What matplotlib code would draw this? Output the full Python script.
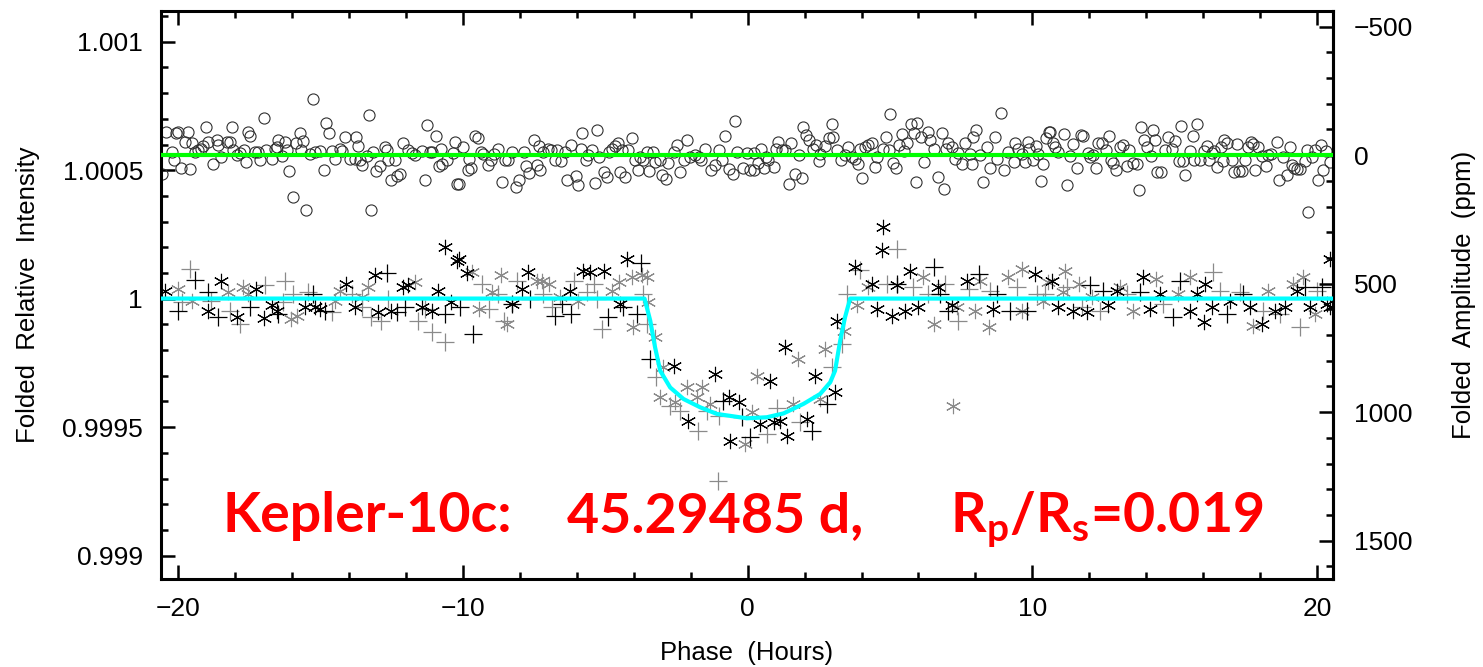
import matplotlib
matplotlib.use("Agg")
import matplotlib.pyplot as plt
import numpy as np
from matplotlib.ticker import MultipleLocator, FixedLocator

plt.rcParams['font.family'] = ['Liberation Sans', 'DejaVu Sans']
plt.rcParams['mathtext.fontset'] = 'custom'
plt.rcParams['mathtext.rm'] = 'Lato:bold'
plt.rcParams['mathtext.bf'] = 'Lato:bold'

# ---------------- data ----------------
# zero of the right-hand amplitude axis, in folded relative intensity
amp_zero = 1.0005585

# upper band: open circles (phase in hours, amplitude in ppm)
circ_phase = [
 -20.56,-20.41,-20.23,-20.14,-20.06,-20.00,-19.90,-19.76,-19.65,-19.59,-19.53,-19.41,-19.30,-19.20,-19.12,-19.03,-18.94,-18.77,-18.65,-18.59,
 -18.48,-18.30,-18.18,-18.12,-18.07,-17.95,-17.83,-17.68,-17.63,-17.56,-17.48,-17.31,-17.19,-17.13,-16.98,-16.90,-16.72,-16.60,-16.54,-16.49,
 -16.37,-16.23,-16.19,-16.10,-15.98,-15.87,-15.73,-15.67,-15.61,-15.51,-15.37,-15.26,-15.20,-15.02,-14.88,-14.79,-14.71,-14.61,-14.50,-14.32,
 -14.26,-14.14,-13.97,-13.79,-13.76,-13.70,-13.62,-13.54,-13.38,-13.29,-13.23,-13.15,-13.06,-12.92,-12.74,-12.68,-12.62,-12.54,-12.39,-12.33,
 -12.21,-12.10,-11.94,-11.80,-11.69,-11.45,-11.34,-11.27,-11.16,-11.08,-10.96,-10.84,-10.77,-10.73,-10.57,-10.34,-10.28,-10.19,
 -10.13,-9.98,-9.83,-9.78,-9.71,-9.59,-9.47,-9.36,-9.28,-9.12,-9.01,-8.89,-8.75,-8.63,-8.51,-8.40,-8.26,-8.14,-8.02,-7.87,
 -7.79,-7.67,-7.52,-7.40,-7.32,-7.29,-7.17,-7.02,-6.90,-6.78,-6.70,-6.55,-6.41,-6.35,-6.20,-6.03,-5.94,-5.85,-5.80,-5.68,
 -5.59,-5.45,-5.35,-5.30,-5.21,-5.06,-4.94,-4.86,-4.77,-4.67,-4.57,-4.48,-4.42,-4.32,-4.21,-4.07,-3.95,-3.86,-3.77,-3.69,
 -3.54,-3.46,-3.34,-3.25,-3.09,-2.99,-2.87,-2.78,-2.60,-2.49,-2.36,-2.25,-2.12,-2.02,-1.84,-1.72,-1.63,-1.49,-1.28,-1.14,
 -1.00,-0.91,-0.81,-0.65,-0.53,-0.46,-0.38,-0.18,-0.03,0.09,0.21,
 0.21,0.35,0.46,0.58,0.65,0.73,0.93,1.00,1.07,1.20,1.32,1.47,1.52,1.67,1.82,1.90,1.96,2.05,2.17,2.29,
 2.41,2.49,2.55,2.72,2.87,2.96,3.01,3.13,3.27,3.42,3.51,3.66,3.78,3.89,4.01,3.93,4.13,4.24,4.36,4.48,
 4.54,4.75,4.86,4.95,5.00,5.10,5.22,5.33,5.41,5.50,5.61,5.73,5.85,5.91,5.96,6.08,6.20,6.35,6.41,6.55,
 6.70,6.82,6.88,6.97,7.05,7.17,7.29,7.40,7.52,7.64,7.81,7.87,7.91,8.02,8.16,8.28,8.42,8.52,8.67,8.77,
 8.90,9.01,9.16,9.34,9.39,9.51,9.63,9.75,9.83,9.89,10.01,10.13,10.21,10.31,10.39,10.48,10.59,
 10.62,10.74,10.80,10.91,11.11,11.23,11.32,11.44,11.58,11.70,11.79,11.97,12.03,12.12,12.24,12.32,12.44,12.59,12.70,12.75,
 12.82,12.94,13.06,13.20,13.31,13.41,13.55,13.69,13.73,13.81,13.92,14.04,14.16,14.25,14.31,14.39,14.51,14.66,14.78,14.89,
 15.01,15.16,15.21,15.30,15.37,15.54,15.63,15.68,15.77,15.87,16.01,16.15,16.22,16.30,16.38,16.50,16.61,16.68,16.73,16.83,
 17.00,17.09,17.18,17.27,17.35,17.47,17.59,17.67,17.74,17.82,17.94,18.05,18.21,18.29,18.38,18.58,18.67,18.79,18.93,19.05,
 19.11,19.19,19.28,19.40,19.58,19.63,19.67,19.81,19.93,20.04,20.13,20.20,20.31,20.45]
circ_ppm = [
 72,-91,-13,20,-85,-91,48,-52,-91,52,-46,-13,-20,-26,-35,-108,-52,36,-59,-39,
 9,-52,-52,-108,-20,0,-7,-20,26,-91,-74,-13,-13,17,-143,-20,13,-26,-33,-61,
 4,-52,-20,62,163,-46,-85,-20,-56,215,-4,-218,-13,-17,59,-124,-85,-17,13,-26,
 -17,-72,13,13,-72,-35,17,39,4,-156,215,-13,61,43,-33,-20,20,98,20,82,
 74,-46,-20,-7,0,-17,95,-117,-13,-13,-74,43,-26,33,20,-7,-52,113,
 113,-33,56,13,48,-74,-65,-13,-4,39,20,-4,-26,104,17,20,-13,124,95,-13,
 43,69,-61,39,-35,56,-13,-26,-20,20,-20,22,-13,95,-39,82,117,-26,-88,17,
 0,-22,108,-98,9,65,85,-13,-26,-35,-46,65,-20,85,-20,-65,20,56,9,17,
 -13,61,-13,26,20,78,91,30,-13,-39,65,20,-59,7,0,7,20,-26,59,39,
 -20,20,-74,52,74,-134,-13,48,-7,59,-7,
 56,30,-26,48,7,17,46,-26,-52,-20,-22,113,-46,72,0,87,-108,-78,-61,-26,
 -39,22,-4,-35,-65,-121,-69,-20,17,0,-33,7,13,33,87,-26,-33,-39,-46,46,
 9,-26,-72,-22,-160,30,48,-39,-82,-17,-48,-121,-87,104,-124,-72,26,-91,-61,-26,
 85,-87,130,-26,-48,-33,13,-7,33,-48,-4,33,-72,-98,0,104,-30,48,-69,13,
 -165,59,-13,26,-48,-26,-4,26,-52,-26,20,-35,-4,100,33,-65,-91,
 -91,-46,-33,-13,-82,117,4,-43,48,-78,-74,-9,7,0,48,-46,-46,-20,-74,20,
 30,56,-33,-39,43,-22,30,35,137,-111,-59,-33,4,-98,-59,65,65,-20,-72,-26,
 -56,22,-113,22,78,-17,-74,17,-121,17,-17,-35,17,-9,-17,46,-33,22,-61,-48,
 20,65,-43,61,61,17,-33,-52,-43,56,-33,4,43,0,-4,-52,95,7,78,-33,
 39,48,52,52,22,-20,221,9,-20,98,-39,56,-17,26]

# lower band: folded transit data, two marker types in black and grey (phase h, amplitude ppm)
star_black_phase = [
 -20.47,-18.94,-18.48,-17.95,-17.25,-16.98,-16.72,-16.54,-15.55,-15.20,-15.02,-14.09,-13.79,-13.09,-12.97,-12.51,-12.10,-11.92,-11.45,-11.10,
 -10.87,-10.63,-10.40,-10.22,-10.15,-9.86,-8.28,-7.93,-7.72,-6.23,-5.77,-5.53,-5.03,-4.48,-4.24,
 -2.60,-2.08,-1.14,-0.67,-0.62,-0.32,0.44,0.79,0.91,1.14,1.37,1.32,2.08,2.37,3.07,3.13,3.77,4.71,
 4.36,4.54,4.77,5.06,5.24,5.53,5.71,6.00,6.70,7.17,7.70,8.63,10.10,
 10.68,10.91,11.44,11.91,12.67,12.96,13.90,14.13,14.48,15.54,15.77,16.01,16.06,16.30,16.94,17.64,18.05,18.52,18.87,19.28,
 19.75,20.34,20.45,20.45]
star_black_ppm = [
 527,605,488,631,520,633,585,605,592,592,598,501,592,468,611,605,514,507,592,605,
 527,358,572,410,403,459,579,520,455,527,449,455,451,579,403,
 819,1033,852,943,1111,962,1046,878,1040,1033,1092,748,1027,858,923,644,435,370,
 501,598,280,624,507,605,449,592,514,585,488,598,462,
 488,592,605,611,585,527,475,598,540,605,540,650,501,592,566,592,657,605,592,527,
 592,579,403,592]

star_grey_phase = [
 -20.00,-19.53,-18.24,-17.72,-17.54,-16.02,-15.84,-14.50,-14.32,-13.56,-13.33,-11.69,
 -9.68,-9.45,-8.98,-8.65,-8.46,-7.40,-7.23,-6.99,-6.58,-5.94,-4.77,-4.53,-4.07,-4.01,-3.71,-3.54,-3.50,-3.25,
 -2.96,-3.07,-2.55,-2.14,-1.79,-1.61,-1.32,-0.09,0.15,0.32,1.61,1.78,2.54,2.72,3.37,7.22,
 3.83,4.24,6.17,6.53,7.35,7.99,8.16,8.46,9.16,9.63,9.63,10.39,10.56,
 11.15,11.09,11.62,12.08,13.08,13.55,14.34,15.13,15.54,17.76,18.29,19.16,19.52,19.93]
star_grey_ppm = [
 520,566,533,514,540,637,624,566,527,553,514,494,
 455,598,533,468,657,488,488,501,553,566,527,494,475,670,468,475,572,709,
 826,943,962,904,943,904,969,1124,1001,858,969,793,949,754,683,975,
 585,514,475,657,592,605,488,670,475,442,605,566,494,
 449,533,501,553,514,605,481,540,475,663,527,501,475,618]

plus_black_phase = [
 -19.41,-20.00,-18.94,-18.59,-17.48,-16.49,-15.26,-14.85,-12.68,-12.33,-12.04,-10.63,
 -10.09,-9.63,-8.28,-7.64,-6.76,-6.52,-6.20,-4.89,-4.36,-3.89,-3.74,
 -3.42,-0.85,-0.20,0.09,2.25,2.78,
 5.24,6.53,6.74,7.05,8.11,8.75,9.22,9.80,
 12.03,12.49,13.78,14.95,15.19,16.83,17.41,19.58,20.16]
plus_black_ppm = [
 485,605,533,631,592,618,540,605,459,611,592,618,
 592,696,579,559,624,579,618,631,592,618,420,
 793,956,1020,1098,1072,969,
 501,436,540,605,462,540,605,605,
 507,527,533,631,488,618,540,514,514]

plus_grey_phase = [
 -19.59,-19.88,-18.83,-18.18,-17.83,-16.95,-16.25,-16.31,-15.96,-15.43,-14.61,-13.91,-13.56,-13.21,-12.86,-12.62,-11.57,-11.34,-11.10,-10.63,
 -9.33,-9.10,-8.75,-8.57,-8.10,-7.20,-6.88,-6.11,-5.65,-5.41,-5.30,-5.12,-3.66,-3.54,
 -3.21,-2.72,-2.37,-1.73,-1.44,-1.02,0.67,1.02,1.84,2.96,3.31,3.48,3.95,5.24,-1.04,
 4.89,5.82,6.35,6.94,7.40,7.76,8.52,9.45,10.15,
 10.45,11.21,11.73,12.38,13.31,14.60,16.36,16.59,17.29,18.11,18.70,19.40,19.99]
plus_grey_ppm = [
 442,572,566,605,657,507,488,572,540,533,611,540,592,631,644,559,644,598,689,728,
 501,598,540,644,488,540,592,488,533,501,559,676,540,657,
 865,975,995,1072,995,1014,1085,982,1040,826,735,540,448,364,1268,
 501,514,540,501,644,520,527,514,540,
 540,514,592,605,540,579,455,527,533,605,618,670,527]

# transit model (cyan) and flat reference level (green), amplitude in ppm
model_phase = [-20.6,-3.62,-3.42,-3.25,-3.07,-2.72,-2.25,-1.67,-1.08,-0.03,0.67,1.26,1.96,2.55,2.90,3.07,3.25,3.42,3.60,20.6]
model_ppm = [558,558,644,748,839,904,949,981,1007,1024,1020,1005,968,929,884,839,722,631,558,558]
ref_phase = [-20.6, 20.6]
ref_ppm = [0, 0]

x_ticks = [-20, -10, 0, 10, 20]
x_ticklabels = ['\u221220', '\u221210', '0', '10', '20']
y_ticks = [0.999, 0.9995, 1.0, 1.0005, 1.001]
y_ticklabels = ['0.999', '0.9995', '1', '1.0005', '1.001']
ppm_ticks = [-500, 0, 500, 1000, 1500]
ppm_ticklabels = ['\u2212500', '0', '500', '1000', '1500']

x_range = (-20.6, 20.56)
y_range = (0.998909, 1.0011196)

def to_flux(ppm):
    return amp_zero - np.asarray(ppm, dtype=float) * 1e-6

def flux_to_ppm(v):
    return (amp_zero - np.asarray(v, dtype=float)) * 1e6

# ---------------- figure ----------------
fig = plt.figure(figsize=(14.83, 6.67), dpi=100)
ax = fig.add_axes([0.1086, 0.1319, 0.7903, 0.8516])

grey = '#8a8a8a'
ax.plot(circ_phase, to_flux(circ_ppm), linestyle='none', marker='o', markersize=8,
        markerfacecolor='none', markeredgecolor='#303030', markeredgewidth=0.8, zorder=2)
ax.plot(plus_grey_phase, to_flux(plus_grey_ppm), linestyle='none', marker='+', markersize=13,
        markeredgecolor=grey, markeredgewidth=0.9, zorder=2)
ax.plot(star_grey_phase, to_flux(star_grey_ppm), linestyle='none', marker=(6, 2, 0), markersize=11,
        markeredgecolor=grey, markeredgewidth=0.8, zorder=2)
ax.plot(plus_black_phase, to_flux(plus_black_ppm), linestyle='none', marker='+', markersize=13,
        markeredgecolor='black', markeredgewidth=0.9, zorder=3)
ax.plot(star_black_phase, to_flux(star_black_ppm), linestyle='none', marker=(6, 2, 0), markersize=11,
        markeredgecolor='black', markeredgewidth=0.8, zorder=3)

ax.plot(ref_phase, to_flux(ref_ppm), color='#00ff00', linewidth=3, zorder=4)
ax.plot(model_phase, to_flux(model_ppm), color='#00ffff', linewidth=3, zorder=4)

ax.set_xlim(*x_range)
ax.set_ylim(*y_range)

for s in ax.spines.values():
    s.set_linewidth(2.2)

ax.xaxis.set_major_locator(FixedLocator(x_ticks))
ax.xaxis.set_minor_locator(MultipleLocator(2))
ax.set_xticklabels(x_ticklabels)
ax.yaxis.set_major_locator(FixedLocator(y_ticks))
ax.yaxis.set_minor_locator(MultipleLocator(0.0001))
ax.set_yticklabels(y_ticklabels)
ax.tick_params(axis='both', which='major', direction='in', length=10, width=1.8, labelsize=19, pad=13)
ax.tick_params(axis='both', which='minor', direction='in', length=5, width=1.8)
ax.tick_params(axis='x', which='both', top=True, bottom=True)
ax.tick_params(axis='y', which='both', left=True, right=False)

sec = ax.secondary_yaxis('right', functions=(flux_to_ppm, to_flux))
sec.yaxis.set_major_locator(FixedLocator(ppm_ticks))
sec.yaxis.set_minor_locator(MultipleLocator(100))
sec.set_yticklabels(ppm_ticklabels)
sec.tick_params(which='major', direction='in', length=10, width=1.8, labelsize=19, pad=15)
sec.tick_params(which='minor', direction='in', length=5, width=1.8)
sec.spines['right'].set_linewidth(2.2)
sec.set_ylabel('Folded  Amplitude  (ppm)', fontsize=18.5, labelpad=28)

ax.set_xlabel('Phase  (Hours)', fontsize=18.5, labelpad=14)
ax.set_ylabel('Folded  Relative  Intensity', fontsize=18.5, labelpad=16)

red = '#ff0000'
base_y = 1 - 532 / 667
fig.text(222 / 1483, base_y, 'Kepler-10c:', color=red, fontsize=40,
         family='Lato', weight='bold', ha='left', va='baseline')
fig.text(567 / 1483, base_y, '45.29485 d,', color=red, fontsize=40,
         family='Lato', weight='bold', ha='left', va='baseline')
fig.text(950 / 1483, base_y, r'R$_\mathrm{p}$/R$_\mathrm{s}$=0.019', color=red, fontsize=40,
         family='Lato', weight='bold', ha='left', va='baseline')

fig.savefig('out.png', dpi=100)
